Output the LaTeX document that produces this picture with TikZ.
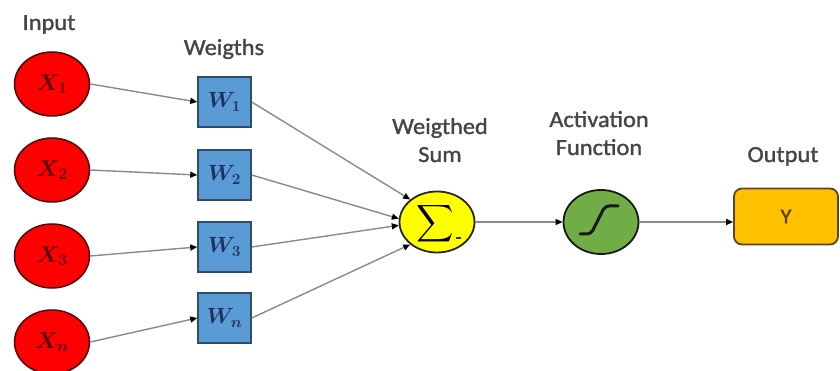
\RequirePackage{fix-cm}
\documentclass[tikz,border=0pt]{standalone}
\usepackage{fontspec}
\setmainfont{Carlito}
\newfontfamily\lblfont{Carlito}[FakeStretch=1.06,FakeBold=1.3]
\usetikzlibrary{shapes.geometric,arrows.meta}
\definecolor{xred}{HTML}{FF0000}
\definecolor{xborder}{HTML}{4A0A0A}
\definecolor{xtext}{HTML}{5A0000}
\definecolor{wblue}{HTML}{5B9BD5}
\definecolor{wborder}{HTML}{2F4B6E}
\definecolor{wtext}{HTML}{1F3160}
\definecolor{sumyellow}{HTML}{FFFF00}
\definecolor{actgreen}{HTML}{70AD47}
\definecolor{outorange}{HTML}{FFC000}
\definecolor{outborder}{HTML}{5C4428}
\definecolor{outtext}{HTML}{5A3E1E}
\definecolor{linegray}{HTML}{8A8A8A}
\definecolor{labelgray}{HTML}{454545}
\begin{document}
\begin{tikzpicture}[x=1pt,y=-1pt,
  xin/.style={ellipse,draw=xborder,fill=xred,line width=1.5pt,minimum width=75pt,minimum height=64pt,inner sep=0pt,text=xtext,font=\fontsize{23}{23}\selectfont\boldmath},
  wbox/.style={rectangle,draw=wborder,fill=wblue,line width=1.5pt,minimum width=53pt,minimum height=50pt,inner sep=0pt,text=wtext,font=\fontsize{22}{22}\selectfont\boldmath},
  conn/.style={draw=linegray,line width=1.4pt,-{Triangle[length=7pt,width=6pt,color=black]}},
  lbl/.style={text=labelgray,font=\fontsize{23}{28}\lblfont,align=center,inner sep=0pt,anchor=base}]
\fill[white] (0,0) rectangle (840,371);
\useasboundingbox (0,0) rectangle (840,371);

% inputs
\node[xin] (x1) at (52,84) {$X_1$};
\node[xin] (x2) at (52,170) {$X_2$};
\node[xin] (x3) at (52,256) {$X_3$};
\node[xin] (xn) at (52,342) {$X_n$};

% weights
\node[wbox] (w1) at (224.5,102) {$W_1$};
\node[wbox] (w2) at (224.5,175) {$W_2$};
\node[wbox] (w3) at (224.5,247) {$W_3$};
\node[wbox] (wn) at (224.5,318) {$W_n$};

% sum
\node[ellipse,draw=black!85,fill=sumyellow,line width=1.8pt,minimum width=75pt,minimum height=61pt,inner sep=0pt] (sum) at (437,222) {};
\node[inner sep=0pt] (sigma) at ([shift={(-2,2)}]sum.center) {\scalebox{2.6}{$\displaystyle\sum$}};
\draw[line width=1.2pt,black!80] ([shift={(19,16)}]sum.center) -- ++(5,0);

% activation
\node[ellipse,draw=black!90,fill=actgreen,line width=1.8pt,minimum width=75pt,minimum height=64pt,inner sep=0pt] (act) at (601,222) {};
\draw[line width=3pt,black!90,rounded corners=4pt,line cap=round] ([shift={(-21,12)}]act.center) -- ++(11,0) -- ([shift={(4,-16)}]act.center) -- ++(13,0);

% output
\node[rectangle,rounded corners=8pt,draw=outborder,fill=outorange,line width=1.8pt,minimum width=104pt,minimum height=56pt,text=outtext,font=\fontsize{21}{21}\lblfont] (out) at (786,216.5) {Y};

% labels
\node[lbl] (linput) at (49,30) {Input};
\node[lbl] (lweights) at (224,55) {Weigths};
\node[lbl] (lsum) at (440,162) {Weigthed\\Sum};
\node[lbl] (lact) at (599,155) {Activation\\Function};
\node[lbl] (lout) at (783,162) {Output};

% connectors
\draw[conn] (x1.east) -- (w1.west);
\draw[conn] (x2.east) -- (w2.west);
\draw[conn] (x3.east) -- (w3.west);
\draw[conn] (xn.east) -- (wn.west);
\draw[conn] (w1.east) -- (sum.140);
\draw[conn] (w2.east) -- (sum.175);
\draw[conn] (w3.east) -- (sum.185);
\draw[conn] (wn.east) -- (sum.220);
\draw[conn] (sum.east) -- (act.west);
\draw[conn] (act.east) -- (act.east -| out.west);
\end{tikzpicture}
\end{document}
